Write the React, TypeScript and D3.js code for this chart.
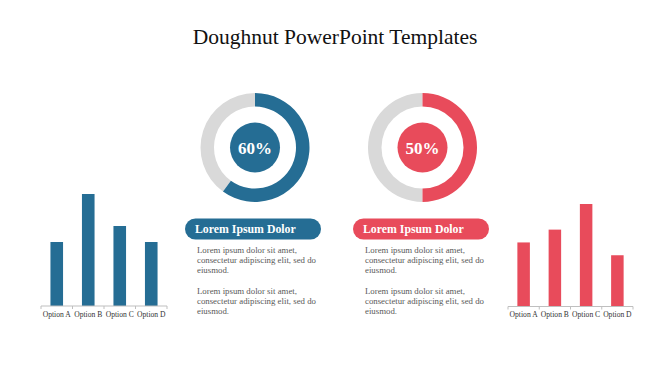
import React from "react";
import * as d3 from "d3";

const W = 670;
const H = 376;

const TITLE = "Doughnut PowerPoint Templates";
const OPTIONS = ["Option A", "Option B", "Option C", "Option D"];
const LEFT_VALUES = [40, 70, 50, 40];
const RIGHT_VALUES = [50, 60, 80, 40];
const DONUT_VALUES = [60, 50];
const CARD_TITLES = ["Lorem Ipsum Dolor", "Lorem Ipsum Dolor"];
const BODY_LINES = ["Lorem ipsum dolor sit amet,", "consectetur adipiscing elit, sed do", "eiusmod."];

const BLUE = "#256d94";
const RED = "#e84b5b";
const GRAY = "#d9d9d9";
const TEXT = "#595959";
const SERIF = "'Liberation Serif', 'DejaVu Serif', serif";

function BarChart({ values, color, x0, x1, top, baseline, max }: {
  values: number[]; color: string; x0: number; x1: number; top: number; baseline: number; max: number;
}) {
  const x = d3.scaleBand<string>().domain(OPTIONS).range([x0, x1]).paddingInner(0.6).paddingOuter(0.3);
  const y = d3.scaleLinear().domain([0, max]).range([baseline, top]);
  const step = x.step();
  const ticks = d3.range(OPTIONS.length + 1).map((i) => x0 + i * step);
  return (
    <g>
      {values.map((v, i) => (
        <rect key={i} x={x(OPTIONS[i])} y={y(v)} width={x.bandwidth()} height={baseline - y(v)} fill={color} />
      ))}
      <line x1={x0} x2={x1} y1={baseline} y2={baseline} stroke="#bfbfbf" strokeWidth={1} />
      {ticks.map((t, i) => (
        <line key={i} x1={t} x2={t} y1={baseline} y2={baseline + 3} stroke="#bfbfbf" strokeWidth={1} />
      ))}
      {OPTIONS.map((o) => (
        <text key={o} x={(x(o) ?? 0) + x.bandwidth() / 2} y={baseline + 10.5} textAnchor="middle"
          fontFamily={SERIF} fontSize={7.6} fill="#333">
          {o}
        </text>
      ))}
    </g>
  );
}

function Donut({ cx, cy, value, color }: { cx: number; cy: number; value: number; color: string }) {
  const arc = d3.arc<{ startAngle: number; endAngle: number }>().innerRadius(41).outerRadius(54.5);
  const split = (value / 100) * Math.PI * 2;
  return (
    <g transform={`translate(${cx},${cy})`}>
      <path d={arc({ startAngle: split, endAngle: Math.PI * 2 }) ?? ""} fill={GRAY} />
      <path d={arc({ startAngle: 0, endAngle: split }) ?? ""} fill={color} />
      <circle r={25} fill={color} />
      <text y={6} textAnchor="middle" fontFamily={SERIF} fontWeight="bold" fontSize={17} fill="#fff">
        {value}%
      </text>
    </g>
  );
}

function Card({ x, y, title, color }: { x: number; y: number; title: string; color: string }) {
  return (
    <g>
      <rect x={x} y={y} width={136} height={21} rx={10.5} fill={color} />
      <text x={x + 10} y={y + 14.5} fontFamily={SERIF} fontWeight="bold" fontSize={11.8} fill="#fff">
        {title}
      </text>
      {[0, 1].map((p) =>
        BODY_LINES.map((l, i) => (
          <text key={`${p}-${i}`} x={x + 12} y={y + 34 + p * 41 + i * 10} fontFamily={SERIF} fontSize={8.8} fill={TEXT}>
            {l}
          </text>
        ))
      )}
    </g>
  );
}

export default function App() {
  return (
    <svg width={W} height={H} style={{ position: "absolute", left: 0, top: 0, background: "#fff" }}>
      <rect width={W} height={H} fill="#fff" />
      <text x={335} y={44} textAnchor="middle" fontFamily={SERIF} fontSize={21.5} fill="#111">
        {TITLE}
      </text>
      <BarChart values={LEFT_VALUES} color={BLUE} x0={41} x1={167} top={194} baseline={306} max={70} />
      <BarChart values={RIGHT_VALUES} color={RED} x0={508} x1={633} top={204} baseline={306.5} max={80} />
      <Donut cx={255} cy={147.5} value={DONUT_VALUES[0]} color={BLUE} />
      <Donut cx={422.5} cy={147.5} value={DONUT_VALUES[1]} color={RED} />
      <Card x={185} y={218.5} title={CARD_TITLES[0]} color={BLUE} />
      <Card x={353} y={218.5} title={CARD_TITLES[1]} color={RED} />
    </svg>
  );
}
